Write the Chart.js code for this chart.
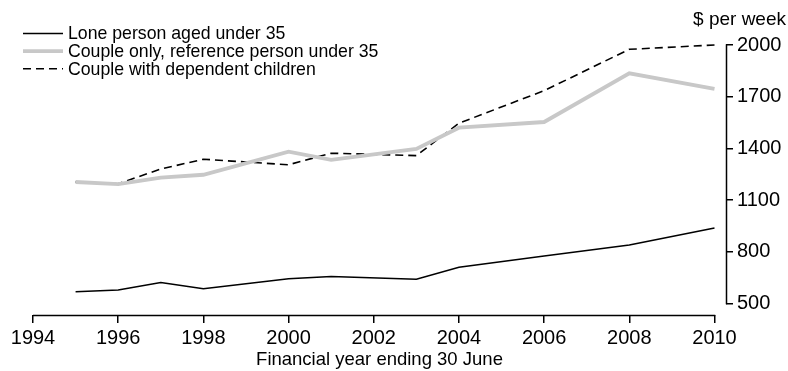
<!DOCTYPE html>
<html>
<head>
<meta charset="utf-8">
<script src="https://cdn.jsdelivr.net/npm/chart.js@4/dist/chart.umd.min.js"></script>
<style>
  html, body { margin: 0; padding: 0; background: #fff; }
  #wrap { width: 788px; height: 371px; }
</style>
</head>
<body>
<div id="wrap"><canvas id="grafico" width="788" height="371"></canvas></div>
<script>
// dati
var anni = [1995, 1996, 1997, 1998, 2000, 2001, 2003, 2004, 2006, 2008, 2010];
var lonePerson = [568, 578, 621, 586, 644, 656, 640, 710, 776, 839, 938];
var coupleOnly = [1205, 1193, 1230, 1247, 1381, 1333, 1397, 1520, 1553, 1836, 1745];
var coupleKids = [1205, 1195, 1280, 1337, 1305, 1372, 1358, 1546, 1735, 1975, 2000];
var xTicks = [1994, 1996, 1998, 2000, 2002, 2004, 2006, 2008, 2010];
var yTicks = [500, 800, 1100, 1400, 1700, 2000];
var etichette = ["Lone person aged under 35", "Couple only, reference person under 35", "Couple with dependent children"];

var font = "'Liberation Sans', Arial, sans-serif";

function punti(valori) {
  return anni.map(function (a, i) { return { x: a, y: valori[i] }; });
}

// assi, legenda e unità disegnati a mano
var extra = {
  id: 'extra',
  afterDraw: function (chart) {
    var ctx = chart.ctx;
    var xs = chart.scales.x;
    var ys = chart.scales.y;
    var area = chart.chartArea;
    ctx.save();
    ctx.strokeStyle = '#000';
    ctx.lineWidth = 1.5;
    ctx.beginPath();
    var by = Math.round(area.bottom) + 0.5;
    ctx.moveTo(xs.getPixelForValue(xTicks[0]), by);
    ctx.lineTo(xs.getPixelForValue(xTicks[xTicks.length - 1]) + 0.75, by);
    var rx = Math.round(area.right) + 0.5;
    ctx.moveTo(rx, ys.getPixelForValue(yTicks[0]) + 0.75);
    ctx.lineTo(rx, ys.getPixelForValue(yTicks[yTicks.length - 1]) - 0.75);
    ctx.stroke();

    // $ per week
    ctx.fillStyle = '#000';
    ctx.font = '19px ' + font;
    ctx.textAlign = 'right';
    ctx.textBaseline = 'middle';
    ctx.fillText('$ per week', 786, 20);

    // legenda
    ctx.font = '17.7px ' + font;
    ctx.textAlign = 'left';
    chart.data.datasets.forEach(function (ds, i) {
      var y = 33.5 + i * 17.6;
      ctx.beginPath();
      ctx.strokeStyle = ds.borderColor;
      ctx.lineWidth = ds.borderWidth;
      ctx.setLineDash(ds.borderDash || []);
      ctx.moveTo(23, y);
      ctx.lineTo(63, y);
      ctx.stroke();
      ctx.setLineDash([]);
      ctx.fillText(ds.label, 68, y + 1);
    });
    ctx.restore();
  }
};

var ctx = document.getElementById('grafico');

var chart = new Chart(ctx, {
  type: 'line',
  data: {
    datasets: [{
      label: etichette[0],
      data: punti(lonePerson),
      borderColor: '#000',
      borderWidth: 1.5,
      pointRadius: 0,
      tension: 0,
      clip: false
    }, {
      label: etichette[1],
      data: punti(coupleOnly),
      borderColor: '#c8c8c8',
      borderWidth: 3.8,
      pointRadius: 0,
      tension: 0,
      clip: false
    }, {
      label: etichette[2],
      data: punti(coupleKids),
      borderColor: '#000',
      borderWidth: 1.6,
      borderDash: [8, 5],
      pointRadius: 0,
      tension: 0,
      clip: false
    }]
  },
  options: {
    responsive: false,
    animation: false,
    layout: { padding: { left: 33, top: 45, right: 0, bottom: 0 } },
    plugins: {
      legend: { display: false },
      tooltip: { enabled: false }
    },
    scales: {
      x: {
        type: 'linear',
        min: 1994,
        max: 2010.27,
        afterBuildTicks: function (s) { s.ticks = xTicks.map(function (v) { return { value: v }; }); },
        afterFit: function (s) { s.height = 56; },
        border: { display: false },
        grid: { display: true, drawOnChartArea: false, color: '#000', lineWidth: 1.5, tickLength: 8 },
        ticks: {
          color: '#000',
          font: { family: font, size: 20 },
          padding: 3,
          maxRotation: 0,
          autoSkip: false,
          callback: function (v) { return String(v); }
        },
        title: {
          display: true,
          text: 'Financial year ending 30 June',
          color: '#000',
          font: { family: font, size: 18.5 },
          padding: { top: -5, bottom: 0 }
        }
      },
      y: {
        type: 'linear',
        position: 'right',
        min: 433,
        max: 2000,
        afterBuildTicks: function (s) { s.ticks = yTicks.map(function (v) { return { value: v }; }); },
        afterFit: function (s) { s.width = 62; },
        border: { display: false },
        grid: { display: true, drawOnChartArea: false, color: '#000', lineWidth: 1.5, tickLength: 7 },
        ticks: {
          color: '#000',
          font: { family: font, size: 20 },
          padding: 4,
          callback: function (v) { return String(v); }
        }
      }
    }
  },
  plugins: [extra]
});
</script>
</body>
</html>
